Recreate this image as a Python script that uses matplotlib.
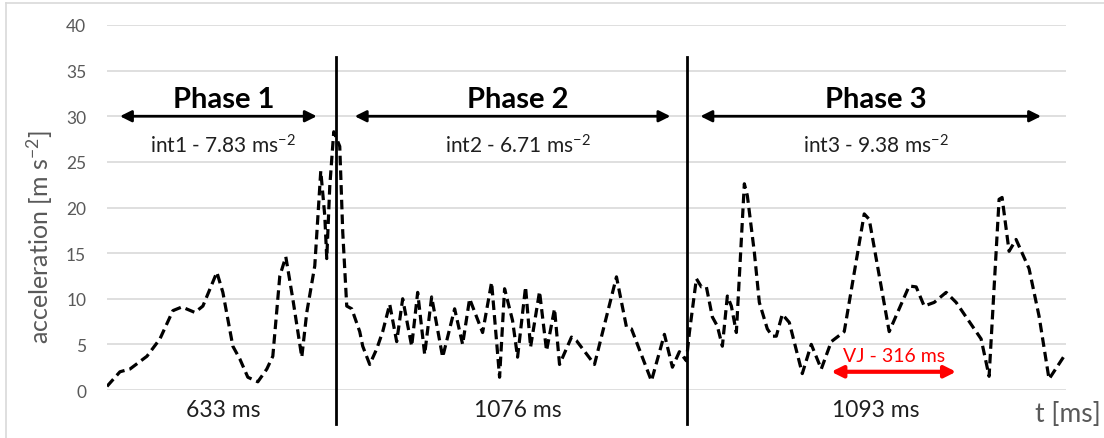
import numpy as np
import matplotlib.pyplot as plt
from matplotlib.lines import Line2D

plt.rcParams['font.family'] = ['Lato', 'DejaVu Sans']
plt.rcParams['mathtext.fontset'] = 'custom'
plt.rcParams['mathtext.rm'] = 'Lato'
plt.rcParams['mathtext.it'] = 'Lato'
plt.rcParams['mathtext.default'] = 'rm'

# time axis in sample units (the original has no x tick labels), acceleration in m s^-2
t_p1 = [0, 13, 23, 40, 53, 66, 75, 88, 96, 110, 116, 126, 133, 141, 151, 160, 166,
        173, 179, 186, 195, 200, 208, 214, 218, 220, 223, 227, 230, 233, 236, 240,
        245, 253]
acc_p1 = [0.4, 2.0, 2.3, 3.7, 5.6, 8.7, 9.1, 8.5, 9.2, 12.9, 10.7, 4.8, 3.4, 1.4,
          0.9, 2.3, 3.7, 12.5, 14.6, 10.0, 3.6, 8.5, 13.6, 24.0, 19.1, 14.4, 22.3,
          28.3, 27.5, 26.7, 17.3, 9.2, 8.9, 6.4]
t_p2 = [256, 263, 270, 276, 283, 290, 296, 305, 311, 318, 325, 336, 348, 356, 363,
        376, 385, 393, 398, 406, 411, 419, 424, 433, 440, 448, 453, 465, 470, 488,
        510, 520, 525, 545, 558, 566, 573, 580]
acc_p2 = [4.8, 2.8, 4.5, 6.4, 9.4, 5.3, 10.0, 4.8, 10.7, 3.9, 10.2, 3.6, 8.9, 5.0,
          10.0, 6.3, 11.8, 1.4, 11.1, 7.6, 3.6, 11.3, 4.7, 10.8, 4.3, 8.9, 2.8, 5.8,
          5.4, 2.8, 12.4, 6.9, 6.7, 1.0, 6.1, 2.5, 4.2, 3.2]
t_p3 = [583, 590, 595, 600, 606, 611, 616, 621, 625, 630, 638, 641, 648, 653, 661,
        666, 670, 676, 683, 696, 705, 715, 725, 738, 758, 763, 783, 803, 810, 818,
        828, 840, 850, 875, 883, 893, 896, 903, 910, 923, 933, 943, 958]
acc_p3 = [6.3, 12.2, 11.3, 11.3, 8.0, 7.0, 4.8, 10.3, 9.2, 6.3, 22.6, 21.3, 15.1,
          9.6, 6.7, 5.9, 5.9, 8.3, 7.4, 1.8, 5.0, 2.3, 5.3, 6.4, 19.3, 18.7, 6.4,
          11.4, 11.3, 9.2, 9.6, 10.7, 9.6, 5.6, 1.5, 20.9, 21.1, 15.2, 16.5, 13.3,
          8.1, 1.2, 3.7]

phase_bounds = [229, 581]
phase_names = ['Phase 1', 'Phase 2', 'Phase 3']
phase_spans = [(13, 210), (248, 564), (594, 935)]
phase_int = [r'int1 - 7.83 ms$^{-2}$', r'int2 - 6.71 ms$^{-2}$',
             r'int3 - 9.38 ms$^{-2}$']
phase_ms = ['633 ms', '1076 ms', '1093 ms']
vj_span = (725, 850)
vj_label = 'VJ - 316 ms'

t = t_p1 + t_p2 + t_p3
acc = acc_p1 + acc_p2 + acc_p3

fig = plt.figure(figsize=(11.04, 4.39), dpi=100)
ax = fig.add_axes([0.0969, 0.1093, 0.8687, 0.8315])
ax.set_xlim(0, 960)
ax.set_ylim(0, 40)
ax.set_yticks(np.arange(0, 41, 5))
ax.set_xticks([])
ax.grid(axis='y', color='#d9d9d9', linewidth=1.2)
ax.set_axisbelow(True)
for s in ax.spines.values():
    s.set_visible(False)
ax.tick_params(axis='y', length=0, pad=15, labelsize=12.5, labelcolor='#595959')

ax.plot(t, acc, color='black', linestyle=(0, (3.0, 1.6)), linewidth=2.3)

for b in phase_bounds:
    ax.plot([b, b], [-3.7, 36.5], color='black', linewidth=2, clip_on=False)

for name, (a, b), txt, ms in zip(phase_names, phase_spans, phase_int, phase_ms):
    c = (a + b) / 2
    ax.annotate('', xy=(a, 30), xytext=(b, 30),
                arrowprops=dict(arrowstyle='<|-|>', color='black', lw=2,
                                mutation_scale=17, shrinkA=0, shrinkB=0))
    ax.text(c + 5, 31.9, name, ha='center', va='center', fontsize=21, fontweight='bold')
    ax.text(c + 5, 26.9, txt, ha='center', va='center', fontsize=15, color='#1f1f1f')
    ax.text(c + 5, -2.1, ms, ha='center', va='center', fontsize=16.5,
            color='#1f1f1f', clip_on=False)

ax.annotate('', xy=(vj_span[0], 2.0), xytext=(vj_span[1], 2.0),
            arrowprops=dict(arrowstyle='<|-|>', color='#ff0000', lw=3,
                            mutation_scale=17, shrinkA=0, shrinkB=0))
ax.text(sum(vj_span) / 2, 3.8, vj_label, ha='center', va='center',
        fontsize=14, color='#ff0000')

fig.text(0.036, 0.46, r'acceleration [m s$^{-2}$]', rotation=90, ha='center',
         va='center', fontsize=18, color='#595959')
fig.text(0.967, 0.055, 't [ms]', ha='center', va='center', fontsize=19, color='#595959')

# light frame (top and left edges)
fig.add_artist(Line2D([6 / 1104, 1], [1 - 4 / 439, 1 - 4 / 439], color='#d9d9d9',
                      linewidth=1.2, transform=fig.transFigure))
fig.add_artist(Line2D([6 / 1104, 6 / 1104], [0, 1 - 4 / 439], color='#d9d9d9',
                      linewidth=1.2, transform=fig.transFigure))

fig.savefig('out.png', dpi=100)
